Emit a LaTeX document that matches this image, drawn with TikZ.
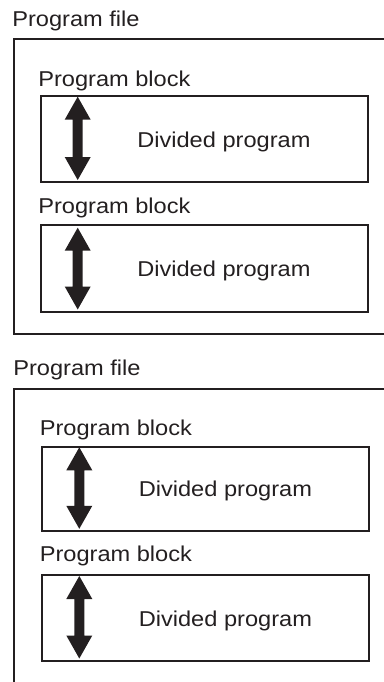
\documentclass[tikz,border=0pt]{standalone}
\usepackage{fontspec}
\setmainfont[FakeStretch=1.1]{Liberation Sans}
\definecolor{ink}{HTML}{231F20}
\newcommand{\dblarrow}[3]{%
  \fill[ink] (#1,#2) -- ++(13,23) -- ++(-8,0) -- (#1+5,#3-23) -- ++(8,0) -- (#1,#3)
    -- ++(-13,-23) -- ++(8,0) -- (#1-5,#2+23) -- ++(-8,0) -- cycle;}
\begin{document}
\begin{tikzpicture}[x=0.75pt,y=-0.75pt,
  lbl/.style={anchor=base west,inner sep=0pt,font=\fontsize{16.1pt}{19pt}\selectfont,text=ink},
  blockbox/.style={draw=ink,line width=1.5pt},
  outerline/.style={draw=ink,line width=1.5pt}]
\useasboundingbox (0,0) rectangle (384,682);
\begin{scope}
\clip (0,0) rectangle (384,682);
% ---- top diagram ----
\node[lbl] (pf1) at (12,26) {Program file};
\draw[outerline] (390,39) -- (14,39) -- (14,334) -- (390,334);
\node[lbl] (pb11) at (38,86) {Program block};
\draw[blockbox] (40.7,95.7) rectangle (368,181.7);
\dblarrow{77.7}{96.7}{180}
\node[lbl] (dp11) at (137,147.7) {Divided program};
\node[lbl] (pb12) at (38,213) {Program block};
\draw[blockbox] (40.7,225) rectangle (368,311.7);
\dblarrow{77.7}{227.7}{309.5}
\node[lbl] (dp12) at (137,276.7) {Divided program};
% ---- bottom diagram ----
\node[lbl] (pf2) at (13,375) {Program file};
\draw[outerline] (390,389) -- (14,389) -- (14,690);
\node[lbl] (pb21) at (39.5,435) {Program block};
\draw[blockbox] (41.7,446.7) rectangle (369,531);
\dblarrow{79.3}{447.3}{528.8}
\node[lbl] (dp21) at (138.5,496.7) {Divided program};
\node[lbl] (pb22) at (39.5,561.7) {Program block};
\draw[blockbox] (41.7,575) rectangle (369,660.7);
\dblarrow{79.3}{576}{658.5}
\node[lbl] (dp22) at (138.5,626) {Divided program};
\end{scope}
\end{tikzpicture}
\end{document}
